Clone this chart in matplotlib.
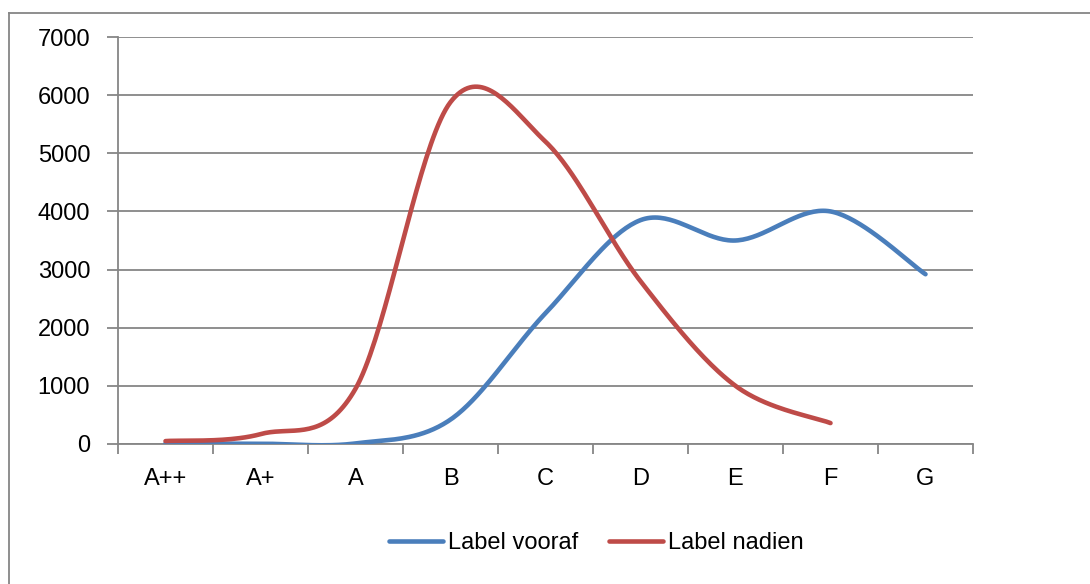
import numpy as np
import matplotlib
matplotlib.use('Agg')
from matplotlib import pyplot as plt
from matplotlib.lines import Line2D

plt.rcParams['font.family'] = ['Liberation Sans', 'DejaVu Sans']

categorieen = ['A++', 'A+', 'A', 'B', 'C', 'D', 'E', 'F', 'G']
vooraf = [10, 5, 10, 420, 2250, 3850, 3500, 4000, 2920]
nadien = [50, 170, 950, 5880, 5200, 2800, 1000, 360]

blauw = '#4A7EBB'
rood = '#BE4B48'
grijs = '#868686'


def glad(ys, n=40):
    # Excel-achtige smoothing (Catmull-Rom via Bezier)
    xs = np.arange(len(ys), dtype=float)
    ys = np.asarray(ys, dtype=float)
    px = np.concatenate([[xs[0]], xs, [xs[-1]]])
    py = np.concatenate([[ys[0]], ys, [ys[-1]]])
    uit_x, uit_y = [], []
    t = np.linspace(0, 1, n)
    for i in range(1, len(xs)):
        p0 = np.array([px[i], py[i]])
        p3 = np.array([px[i + 1], py[i + 1]])
        c1 = p0 + (np.array([px[i + 1], py[i + 1]]) - np.array([px[i - 1], py[i - 1]])) / 6
        c2 = p3 - (np.array([px[i + 2], py[i + 2]]) - np.array([px[i], py[i]])) / 6
        b = ((1 - t) ** 3)[:, None] * p0 + (3 * (1 - t) ** 2 * t)[:, None] * c1 \
            + (3 * (1 - t) * t ** 2)[:, None] * c2 + (t ** 3)[:, None] * p3
        uit_x.extend(b[:, 0])
        uit_y.extend(b[:, 1])
    return uit_x, uit_y


fig = plt.figure(figsize=(10.9, 5.84), dpi=100)
ax = fig.add_axes([118 / 1090, 1 - 444 / 584, (973 - 118) / 1090, (444 - 37) / 584])

ax.set_axisbelow(True)
ax.yaxis.grid(True, color=grijs, linewidth=1.3)

bx, by = glad(vooraf)
rx, ry = glad(nadien)
ax.plot(bx, by, color=blauw, linewidth=3.3, solid_capstyle='round', label='Label vooraf', zorder=3)
ax.plot(rx, ry, color=rood, linewidth=3.3, solid_capstyle='round', label='Label nadien', zorder=3)

ax.set_xlim(-0.5, len(categorieen) - 0.5)
ax.set_ylim(0, 7000)
ax.set_yticks(np.arange(0, 7001, 1000))
ax.set_xticks(np.arange(len(categorieen)))
ax.set_xticklabels(categorieen)
ax.set_xticks(np.arange(len(categorieen) + 1) - 0.5, minor=True)

ax.tick_params(axis='x', which='major', length=0, pad=17, labelsize=17)
ax.tick_params(axis='x', which='minor', length=7, width=1.3, color=grijs, direction='out')
ax.tick_params(axis='y', length=8, width=1.3, color=grijs, pad=12, labelsize=17)

for s in ['top', 'right']:
    ax.spines[s].set_visible(False)
for s in ['left', 'bottom']:
    ax.spines[s].set_color(grijs)
    ax.spines[s].set_linewidth(1.3)

# rand om de grafiek
fig.add_artist(Line2D([9 / 1090, 9 / 1090], [0, 1 - 13 / 584], color=grijs, linewidth=1.3))
fig.add_artist(Line2D([9 / 1090, 1], [1 - 13 / 584, 1 - 13 / 584], color=grijs, linewidth=1.3))

fig.legend(loc='center', bbox_to_anchor=(596 / 1090, 1 - 543 / 584), ncol=2, frameon=False,
           fontsize=17, handlelength=2.3, handletextpad=0.2, columnspacing=1.3)

fig.savefig('out.png', dpi=100)
